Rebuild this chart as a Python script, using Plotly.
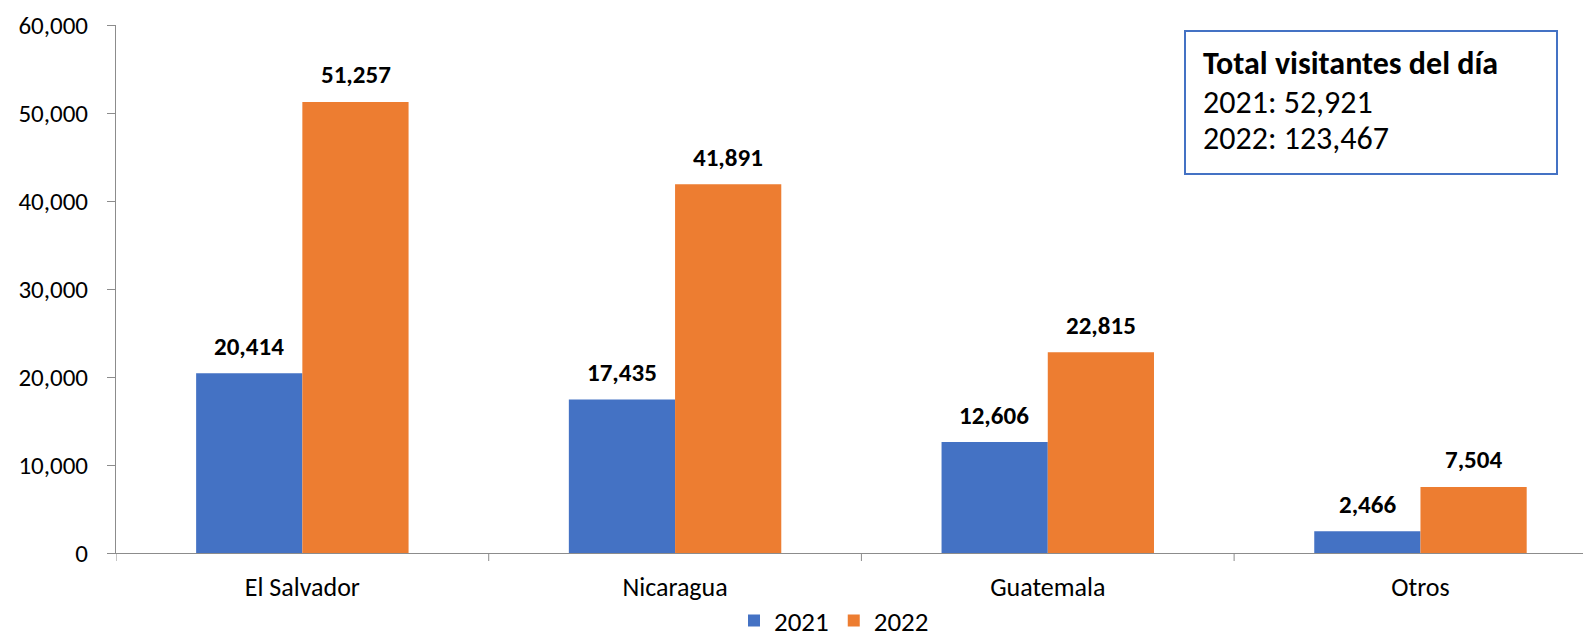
import plotly.graph_objects as go

categories = ["El Salvador", "Nicaragua", "Guatemala", "Otros"]
values_2021 = [20414, 17435, 12606, 2466]
values_2022 = [51257, 41891, 22815, 7504]
series_names = ["2021", "2022"]
colors = ["#4472C4", "#ED7D31"]
y_ticks = [0, 10000, 20000, 30000, 40000, 50000, 60000]
box_title = "Total visitantes del día"
box_lines = ["2021: 52,921", "2022: 123,467"]

FONT = "Carlito, Calibri, Lato, sans-serif"

fig = go.Figure()
for name, vals, col in zip(series_names, [values_2021, values_2022], colors):
    fig.add_trace(go.Bar(
        x=categories, y=vals, name=name, marker_color=col,
        marker_line_width=0,
    ))

# data labels
for i, vals in enumerate([values_2021, values_2022]):
    off = -0.143 if i == 0 else 0.143
    for j, v in enumerate(vals):
        fig.add_annotation(
            x=j + off, y=v, xref="x", yref="y", text=f"<b>{v:,}</b>",
            showarrow=False, yanchor="middle", yshift=27,
            font=dict(family=FONT, size=25, color="black"),
        )

W, H = 1591, 644
OFF = 8  # page body margin
L, R, T, B = 108, 0, 17, 99
pw, ph = W - L - R, H - T - B

def px(page_x):
    return (page_x - OFF - L) / pw

def py(page_y):
    return (H - B - (page_y - OFF)) / ph

fig.add_shape(type="rect", xref="paper", yref="paper",
              x0=px(1185), x1=px(1557), y0=py(174), y1=py(31),
              line=dict(color="#4472C4", width=2), fillcolor="white")
fig.add_annotation(xref="paper", yref="paper", x=px(1201), y=py(63),
                   text=f"<b>{box_title}</b>", showarrow=False,
                   xanchor="left", yanchor="middle", align="left",
                   font=dict(family=FONT, size=32, color="black"))
for k, line in enumerate(box_lines):
    fig.add_annotation(xref="paper", yref="paper", x=px(1201), y=py(102 + 36 * k),
                       text=line, showarrow=False,
                       xanchor="left", yanchor="middle", align="left",
                       font=dict(family=FONT, size=32, color="black"))

fig.update_layout(
    width=W, height=H,
    margin=dict(l=L, r=R, t=T, b=B, autoexpand=False),
    paper_bgcolor="white", plot_bgcolor="white",
    barmode="group", bargap=0.43, bargroupgap=0,
    font=dict(family=FONT, size=26, color="black"),
    legend=dict(orientation="h", x=px(834), xanchor="center", y=py(621),
                yanchor="middle", font=dict(size=27), itemsizing="constant",
                traceorder="normal", itemwidth=30),
    showlegend=True,
)
fig.update_xaxes(
    range=[-0.5, 3.479], showline=True, linecolor="#8c8c8c", linewidth=1,
    ticks="", showgrid=False, tickfont=dict(size=26),
    zeroline=False, automargin=False, ticklabelstandoff=11,
    ticklabeloverflow="allow",
)
# category boundary tick marks
for b in [-0.5, 0.5, 1.5, 2.5]:
    fig.add_shape(type="line", xref="x", yref="paper", x0=b, x1=b,
                  y0=0, y1=-8 / ph, line=dict(color="#8c8c8c", width=1))
fig.update_yaxes(
    range=[0, 60000], tickvals=y_ticks, tickformat=",",
    showline=True, linecolor="#8c8c8c", linewidth=1,
    ticks="outside", ticklen=8, tickcolor="#8c8c8c",
    showgrid=False, zeroline=False, tickfont=dict(size=25),
    ticklabelstandoff=14, automargin=False, ticklabeloverflow="allow",
)

fig.write_html("out.html")
